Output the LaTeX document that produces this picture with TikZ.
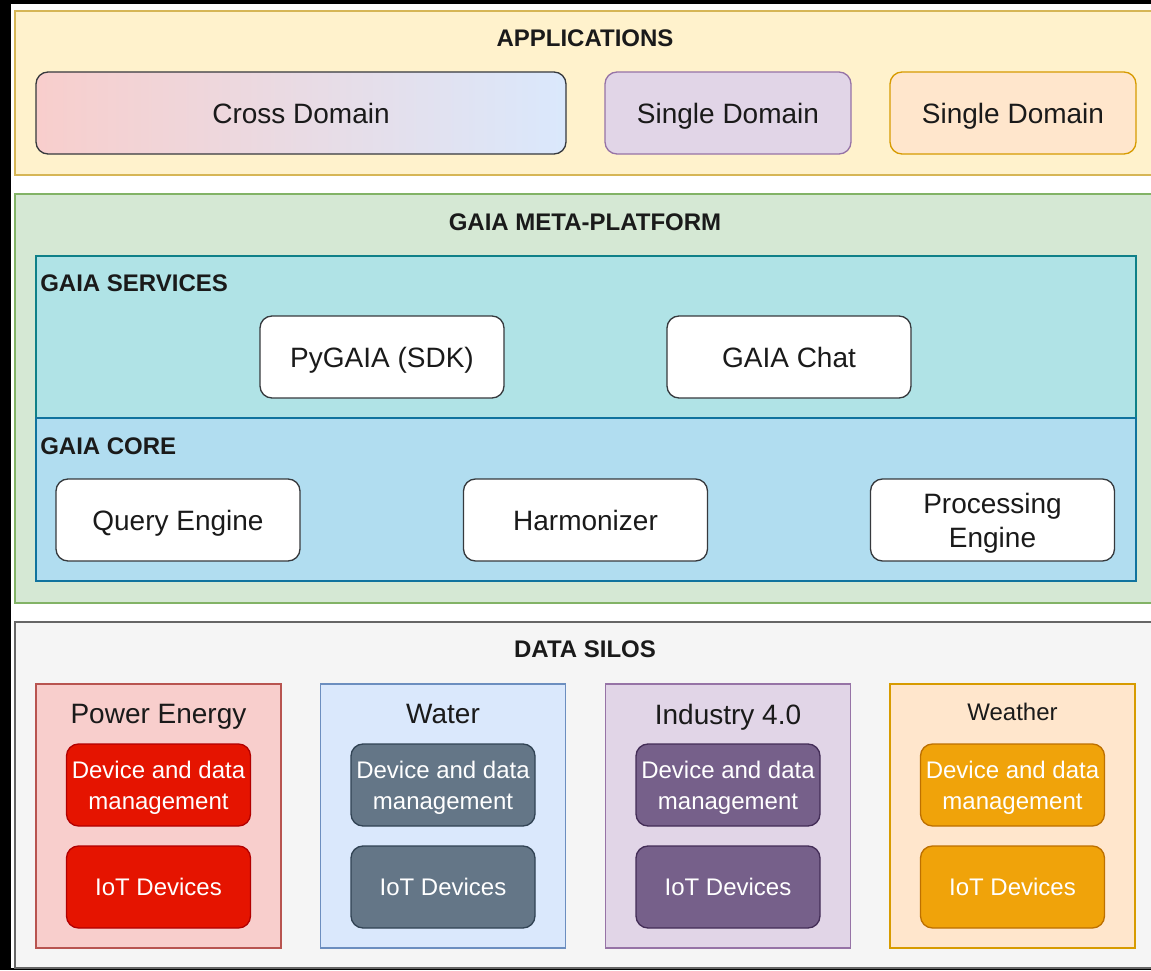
\documentclass[tikz,border=0pt]{standalone}
\usepackage{fontspec}
\setmainfont{Liberation Sans}
\usetikzlibrary{positioning}
\definecolor{ink}{HTML}{1A1A1A}
\definecolor{boxline}{HTML}{36393D}
\definecolor{appfill}{HTML}{FFF2CC}
\definecolor{appline}{HTML}{D6B656}
\definecolor{crossL}{HTML}{F8CECC}
\definecolor{crossR}{HTML}{DAE8FC}
\definecolor{purfill}{HTML}{E1D5E7}
\definecolor{purline}{HTML}{9673A6}
\definecolor{orafill}{HTML}{FFE6CC}
\definecolor{oraline}{HTML}{D79B00}
\definecolor{metafill}{HTML}{D5E8D4}
\definecolor{metaline}{HTML}{82B366}
\definecolor{servfill}{HTML}{B0E3E6}
\definecolor{servline}{HTML}{0E8088}
\definecolor{corefill}{HTML}{B1DDF0}
\definecolor{coreline}{HTML}{10739E}
\definecolor{silofill}{HTML}{F5F5F5}
\definecolor{siloline}{HTML}{666666}
\definecolor{powfill}{HTML}{F8CECC}
\definecolor{powline}{HTML}{B85450}
\definecolor{watfill}{HTML}{DAE8FC}
\definecolor{watline}{HTML}{6C8EBF}
\definecolor{redfill}{HTML}{E51400}
\definecolor{redline}{HTML}{B20000}
\definecolor{slatefill}{HTML}{647687}
\definecolor{slateline}{HTML}{314354}
\definecolor{plumfill}{HTML}{76608A}
\definecolor{plumline}{HTML}{432D57}
\definecolor{amberfill}{HTML}{F0A30A}
\definecolor{amberline}{HTML}{BD7000}

\begin{document}
\begin{tikzpicture}[x=0.75pt, y=-0.75pt,
  heading/.style={text=ink, font=\fontsize{18}{22}\selectfont\bfseries, inner sep=0pt},
  boxbase/.style={draw, rounded corners=9pt, line width=1pt, minimum height=61.5pt,
    text=ink, font=\fontsize{21}{25.5}\selectfont, align=center, inner sep=0pt},
  appbox/.style={boxbase, text depth=0pt},
  corebox/.style={appbox, draw=boxline, fill=white, minimum width=183pt},
  coretwo/.style={boxbase, draw=boxline, fill=white, minimum width=183pt,
    text height=40.5pt, text depth=0pt},
  silo/.style={draw, line width=1pt, minimum width=183.75pt, minimum height=198pt, inner sep=0pt},
  devbox/.style={draw, rounded corners=9pt, line width=1pt, minimum width=138pt,
    minimum height=61.5pt, text=white, font=\fontsize{18}{23}\selectfont, align=center, inner sep=0pt}]

% Frame
\useasboundingbox (0,0) rectangle (1151,970);
\clip (0,0) rectangle (1151,970);
\fill[black] (0,0) rectangle (1151,970);
\fill[white] (11,4) rectangle (1160,968);

% Applications
\filldraw[fill=appfill, draw=appline, line width=1pt] (15,11) rectangle (1165,175);
\node[heading] (apps) at (585,38) {APPLICATIONS};
\node[appbox, draw=boxline, left color=crossL, right color=crossR, minimum width=397.5pt]
  (cross) at (301,113) {Cross Domain};
\node[appbox, fill=purfill, draw=purline, minimum width=184.5pt] (single1) at (728,113) {Single Domain};
\node[appbox, fill=orafill, draw=oraline, minimum width=184.5pt] (single2) at (1013,113) {Single Domain};

% GAIA meta-platform
\filldraw[fill=metafill, draw=metaline, line width=1pt] (15,194) rectangle (1165,603);
\node[heading] (meta) at (585,222) {GAIA META-PLATFORM};

\filldraw[fill=servfill, draw=servline, line width=1pt] (36,256) rectangle (1136,418);
\node[heading, anchor=west] (services) at (40,283) {GAIA SERVICES};
\node[corebox] (pygaia) at (382,357) {PyGAIA (SDK)};
\node[corebox] (chat) at (789,357) {GAIA Chat};

\filldraw[fill=corefill, draw=coreline, line width=1pt] (36,418) rectangle (1136,581);
\node[heading, anchor=west] (core) at (40,446) {GAIA CORE};
\node[corebox] (query) at (178,520) {Query Engine};
\node[corebox] (harmonizer) at (585.5,520) {Harmonizer};
\node[coretwo] (processing) at (992.5,520) {Processing\\Engine};

% Data silos
\filldraw[fill=silofill, draw=siloline, line width=1pt] (15,622) rectangle (1165,968);
\node[heading] (silos) at (585,649) {DATA SILOS};

\foreach \nm/\cx/\ttl/\sz/\ty/\sfill/\sline/\dfill/\dline in {
    power/158.5/Power Energy/21/714/powfill/powline/redfill/redline,
    water/443/Water/21/714/watfill/watline/slatefill/slateline,
    industry/728/Industry 4.0/21/714/purfill/purline/plumfill/plumline,
    weather/1012.5/Weather/18/712/orafill/oraline/amberfill/amberline} {
  \node[silo, fill=\sfill, draw=\sline] (\nm) at (\cx,816) {};
  \node[text=ink, font=\fontsize{\sz}{\sz}\selectfont, inner sep=0pt, text depth=0pt]
    (\nm-title) at (\cx,\ty) {\ttl};
  \node[devbox, fill=\dfill, draw=\dline, text height=36pt, text depth=0pt]
    (\nm-dev) at (\cx,785) {Device and data\\management};
  \node[devbox, fill=\dfill, draw=\dline, text depth=0pt] (\nm-iot) at (\cx,887) {IoT Devices};
}

\end{tikzpicture}
\end{document}
